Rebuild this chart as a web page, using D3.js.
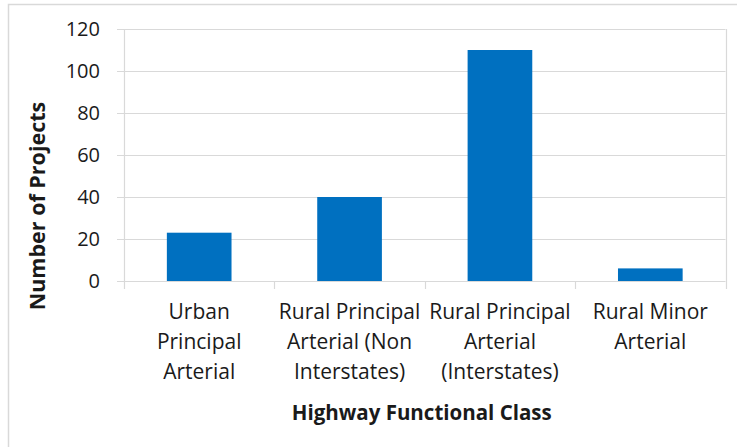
<!DOCTYPE html>
<html>
<head>
<meta charset="utf-8">
<script src="https://cdn.jsdelivr.net/npm/d3@7"></script>
<style>
  body { margin: 0; background: #fff; }
  svg { display: block; }
  text { font-family: "Open Sans", Lato, sans-serif; fill: #1a1a1a; }
</style>
</head>
<body>
<svg id="chart" width="737" height="447"></svg>
<script>
// chart data
const categories = [
  ['Urban', 'Principal', 'Arterial'],
  ['Rural Principal', 'Arterial (Non', 'Interstates)'],
  ['Rural Principal', 'Arterial', '(Interstates)'],
  ['Rural Minor', 'Arterial']
];
const projects = [23, 40, 110, 6];
const yTicks = [0, 20, 40, 60, 80, 100, 120];

const width = 737, height = 447;
const margin = {top: 29, right: 11.5, bottom: 166, left: 124};
const svg = d3.select('#chart');

// outer chart border (only top and left show in the crop)
svg.append('path')
  .attr('d', `M8.5,${height} V4.5 H${width}`)
  .attr('fill', 'none')
  .attr('stroke', '#d9d9d9')
  .attr('stroke-width', 1.5);

const x = d3.scaleBand()
  .domain(d3.range(categories.length))
  .range([margin.left, width - margin.right]);

const y = d3.scaleLinear()
  .domain([0, 120])
  .range([height - margin.bottom, margin.top]);

const g = svg.append('g');

// gridlines + y tick marks
g.append('g')
  .selectAll('line')
  .data(yTicks)
  .enter()
  .append('line')
  .attr('x1', margin.left - 7)
  .attr('x2', width - margin.right)
  .attr('y1', d => Math.round(y(d)) + 0.5)
  .attr('y2', d => Math.round(y(d)) + 0.5)
  .attr('stroke', '#d9d9d9')
  .attr('stroke-width', 1.2);

// y tick labels
g.append('g')
  .selectAll('text')
  .data(yTicks)
  .enter()
  .append('text')
  .attr('x', 100)
  .attr('y', d => y(d))
  .attr('dy', '0.36em')
  .attr('text-anchor', 'end')
  .attr('font-size', 20)
  .text(d => d);

// category boundaries (axis ticks) and plot-area edges
const bounds = d3.range(categories.length + 1).map(i =>
  i < categories.length ? x(i) : x(i - 1) + x.bandwidth());
g.append('g')
  .selectAll('line')
  .data(bounds)
  .enter()
  .append('line')
  .attr('x1', d => Math.round(d) + 0.5)
  .attr('x2', d => Math.round(d) + 0.5)
  .attr('y1', (d, i) => (i === 0 || i === categories.length) ? margin.top : y(0))
  .attr('y2', y(0) + 8)
  .attr('stroke', '#d9d9d9')
  .attr('stroke-width', 1.2);

// bars
const barW = x.bandwidth() * 0.43;
g.append('g')
  .selectAll('rect')
  .data(projects)
  .enter()
  .append('rect')
  .attr('x', (d, i) => x(i) + (x.bandwidth() - barW) / 2)
  .attr('y', d => y(d))
  .attr('width', barW)
  .attr('height', d => y(0) - y(d))
  .attr('fill', '#0070c0');

// category labels
const catLabels = g.append('g')
  .selectAll('text')
  .data(categories)
  .enter()
  .append('text')
  .attr('text-anchor', 'middle')
  .attr('font-size', 21)
  .attr('transform', (d, i) => `translate(${x(i) + x.bandwidth() / 2},319)`);
catLabels.selectAll('tspan')
  .data(d => d)
  .enter()
  .append('tspan')
  .attr('x', 0)
  .attr('y', (d, i) => i * 30)
  .text(d => d);

// axis titles
svg.append('text')
  .attr('x', (margin.left + width - margin.right) / 2 - 3)
  .attr('y', 420)
  .attr('text-anchor', 'middle')
  .attr('font-size', 20.5)
  .attr('font-weight', 'bold')
  .text('Highway Functional Class');

svg.append('text')
  .attr('transform', 'translate(45,206) rotate(-90)')
  .attr('text-anchor', 'middle')
  .attr('font-size', 21.5)
  .attr('font-weight', 'bold')
  .text('Number of Projects');
</script>
</body>
</html>
